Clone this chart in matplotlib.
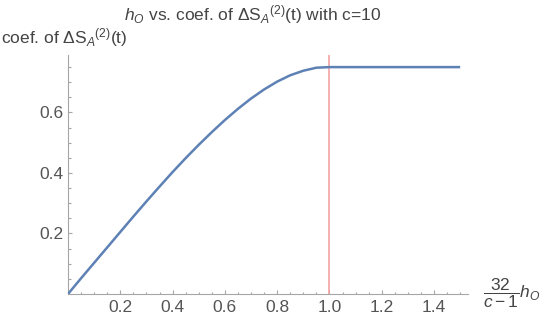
import matplotlib
matplotlib.use("Agg")
import matplotlib.pyplot as plt
from matplotlib.ticker import MultipleLocator, FixedLocator

# values
x_vals = [0.0, 0.05, 0.10, 0.15, 0.20, 0.25, 0.30, 0.35, 0.40, 0.45, 0.50,
          0.55, 0.60, 0.65, 0.70, 0.75, 0.80, 0.85, 0.90, 0.95, 1.00, 1.50]
y_vals = [0.0, 0.052, 0.103, 0.154, 0.205, 0.256, 0.306, 0.355, 0.403, 0.449, 0.493,
          0.535, 0.575, 0.612, 0.646, 0.676, 0.702, 0.723, 0.738, 0.748, 0.750, 0.750]
threshold = 1.0
x_ticks = [0.2, 0.4, 0.6, 0.8, 1.0, 1.2, 1.4]
y_ticks = [0.2, 0.4, 0.6]

plt.rcParams['font.family'] = ['Liberation Sans', 'DejaVu Sans']
plt.rcParams['mathtext.fontset'] = 'custom'
plt.rcParams['mathtext.rm'] = 'Liberation Sans'
plt.rcParams['mathtext.it'] = 'Liberation Sans:italic'
plt.rcParams['mathtext.bf'] = 'Liberation Sans:bold'

W, H = 545, 319
fs = 12.5
fig = plt.figure(figsize=(W / 100, H / 100), dpi=100)
ax = fig.add_axes([68 / W, 25 / H, 400 / W, 239 / H])

ax.plot(x_vals, y_vals, color='#5E81B5', lw=1.8, solid_capstyle='butt', zorder=3)
ax.axvline(threshold, color='#F4A3A3', lw=1.2, zorder=2)

ax.set_xlim(0, 1.53)
ax.set_ylim(0, 0.79)

for s in ['top', 'right']:
    ax.spines[s].set_visible(False)
for s in ['left', 'bottom']:
    ax.spines[s].set_color('#a6a6a6')
    ax.spines[s].set_linewidth(0.8)

ax.xaxis.set_major_locator(FixedLocator(x_ticks))
ax.yaxis.set_major_locator(FixedLocator(y_ticks))
ax.xaxis.set_minor_locator(MultipleLocator(0.05))
ax.yaxis.set_minor_locator(MultipleLocator(0.05))
ax.set_xticklabels([f"{t:.1f}" for t in x_ticks])
ax.set_yticklabels([f"{t:.1f}" for t in y_ticks])

ax.tick_params(which='both', direction='in', color='#a6a6a6', width=0.8,
               labelcolor='#555555', labelsize=fs)
ax.tick_params(which='major', length=3.2)
ax.tick_params(which='minor', length=1.8)
ax.tick_params(axis='x', pad=4)
ax.tick_params(axis='y', pad=3)

fig.text(253 / W, 1 - 20 / H,
         r'$h_O$ vs. coef. of $\Delta\mathrm{S}_A{}^{(2)}$(t) with c=10',
         ha='center', va='baseline', fontsize=fs, color='#444444')
fig.text(1 / W, 1 - 43 / H, r'coef. of $\Delta\mathrm{S}_A{}^{(2)}$(t)',
         ha='left', va='baseline', fontsize=fs, color='#444444')
fig.text(483 / W, 1 - 293 / H, r'$\dfrac{32}{c-1}h_O$',
         ha='left', va='center', fontsize=fs, color='#444444')

fig.savefig('out.png', dpi=100)
